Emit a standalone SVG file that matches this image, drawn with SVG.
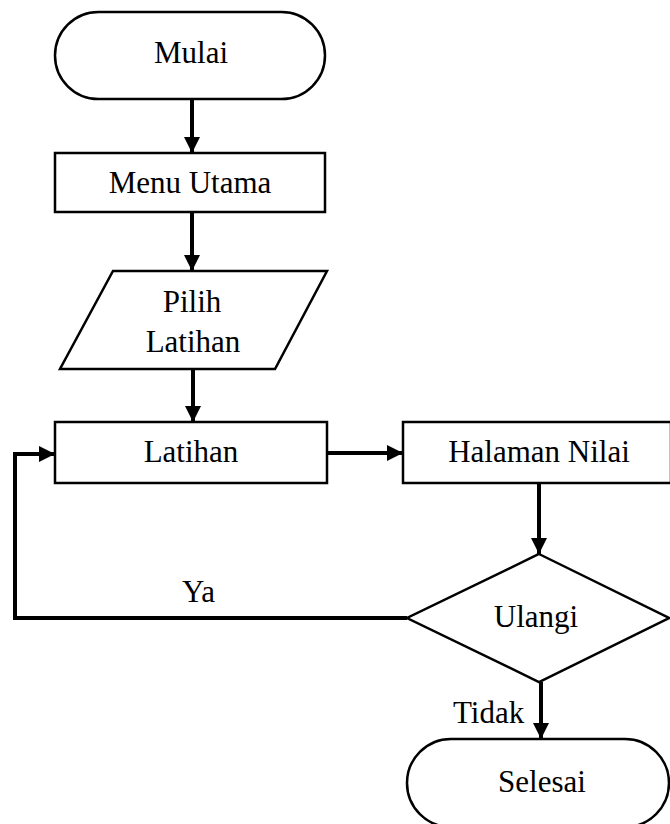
<svg xmlns="http://www.w3.org/2000/svg" width="670" height="824" viewBox="0 0 670 824">
  <style>
    .shape { fill: #ffffff; stroke: #000000; stroke-width: 2.5; }
    .line { fill: none; stroke: #000000; stroke-width: 4; }
    text { font-family: 'Liberation Serif', 'Times New Roman', serif; font-size: 31px; fill: #000000; }
    .mid { text-anchor: middle; }
  </style>
  <defs>
    <marker id="arrow" markerWidth="16" markerHeight="16" refX="16" refY="8" orient="auto" markerUnits="userSpaceOnUse">
      <path d="M0,0 L16,8 L0,16 Z" fill="#000000"/>
    </marker>
  </defs>

  <rect width="670" height="824" fill="#ffffff"/>

  <!-- connectors -->
  <g id="connectors">
    <line class="line" x1="192" y1="99" x2="192" y2="153" marker-end="url(#arrow)"/>
    <line class="line" x1="192" y1="212" x2="192" y2="271" marker-end="url(#arrow)"/>
    <line class="line" x1="193" y1="369" x2="193" y2="422" marker-end="url(#arrow)"/>
    <line class="line" x1="327" y1="453" x2="403" y2="453" marker-end="url(#arrow)"/>
    <line class="line" x1="539" y1="483" x2="539" y2="554" marker-end="url(#arrow)"/>
    <polyline class="line" points="407,618 15,618 15,454 55,454" marker-end="url(#arrow)"/>
    <line class="line" x1="541" y1="682" x2="541" y2="739" marker-end="url(#arrow)"/>
    <text x="182" y="602">Ya</text>
    <text x="453" y="723">Tidak</text>
  </g>

  <g id="mulai">
    <rect class="shape" x="55" y="12" width="270" height="87" rx="43.5" ry="43.5"/>
    <text class="mid" x="191" y="63">Mulai</text>
  </g>

  <g id="menu-utama">
    <rect class="shape" x="55" y="153" width="270" height="59"/>
    <text class="mid" x="190" y="193">Menu Utama</text>
  </g>

  <g id="pilih-latihan">
    <polygon class="shape" points="113,271 327,271 275,369 60,369"/>
    <text class="mid" x="192" y="312">Pilih</text>
    <text class="mid" x="193" y="352">Latihan</text>
  </g>

  <g id="latihan">
    <rect class="shape" x="55" y="422" width="272" height="61"/>
    <text class="mid" x="191" y="462">Latihan</text>
  </g>

  <g id="halaman-nilai">
    <rect class="shape" x="403" y="422" width="268" height="61"/>
    <text class="mid" x="539" y="462">Halaman Nilai</text>
  </g>

  <g id="ulangi">
    <polygon class="shape" points="539,554 669,618 539,682 407,618"/>
    <text class="mid" x="536" y="627">Ulangi</text>
  </g>

  <g id="selesai">
    <rect class="shape" x="407" y="739" width="262" height="88" rx="44" ry="44"/>
    <text class="mid" x="542" y="792">Selesai</text>
  </g>
</svg>
